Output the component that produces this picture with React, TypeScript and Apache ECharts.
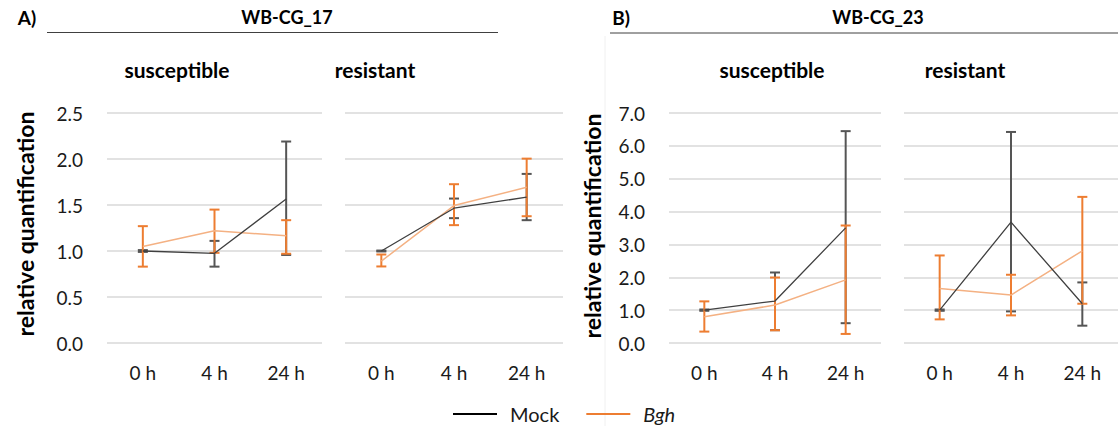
import React, { useEffect, useRef } from "react";
import * as echarts from "echarts";

const categories = ["0 h", "4 h", "24 h"];

// WB-CG_17 susceptible
const aSusMock = [1.0, 0.975, 1.565];
const aSusMockLo = [0.99, 0.83, 0.957];
const aSusMockHi = [1.01, 1.11, 2.19];
const aSusBgh = [1.05, 1.22, 1.165];
const aSusBghLo = [0.83, 0.98, 0.97];
const aSusBghHi = [1.27, 1.45, 1.335];

// WB-CG_17 resistant
const aResMock = [1.0, 1.465, 1.585];
const aResMockLo = [0.995, 1.357, 1.335];
const aResMockHi = [1.005, 1.57, 1.838];
const aResBgh = [0.89, 1.494, 1.693];
const aResBghLo = [0.832, 1.281, 1.378];
const aResBghHi = [0.962, 1.726, 2.004];

// WB-CG_23 susceptible
const bSusMock = [1.0, 1.277, 3.505];
const bSusMockLo = [0.98, 0.39, 0.603];
const bSusMockHi = [1.02, 2.146, 6.448];
const bSusBgh = [0.797, 1.155, 1.921];
const bSusBghLo = [0.347, 0.388, 0.276];
const bSusBghHi = [1.267, 1.993, 3.576];

// WB-CG_23 resistant
const bResMock = [1.0, 3.677, 1.195];
const bResMockLo = [0.98, 0.962, 0.527];
const bResMockHi = [1.02, 6.423, 1.844];
const bResBgh = [1.661, 1.459, 2.806];
const bResBghLo = [0.719, 0.841, 1.195];
const bResBghHi = [2.664, 2.077, 4.447];

const yTicksA = { min: 0, max: 2.5, interval: 0.5 };
const yTicksB = { min: 0, max: 7, interval: 1 };

const FONT = "Lato, 'Open Sans', sans-serif";
const MOCK_LINE = "#404040";
const MOCK_ERR = "#555555";
const BGH_LINE = "#f4b183";
const BGH_ERR = "#ed7d31";

function errSeries(idx: number, lo: number[], hi: number[], color: string) {
  return {
    type: "custom",
    xAxisIndex: idx,
    yAxisIndex: idx,
    silent: true,
    z: 3,
    data: lo.map((l, i) => [i, l, hi[i]]),
    renderItem: (params: any, api: any) => {
      const x = api.value(0);
      const pLo = api.coord([x, api.value(1)]);
      const pHi = api.coord([x, api.value(2)]);
      const hw = 5;
      const style = { stroke: color, lineWidth: 2, fill: "none" };
      return {
        type: "group",
        children: [
          { type: "line", shape: { x1: pLo[0], y1: pLo[1], x2: pHi[0], y2: pHi[1] }, style },
          { type: "line", shape: { x1: pLo[0] - hw, y1: pLo[1], x2: pLo[0] + hw, y2: pLo[1] }, style },
          { type: "line", shape: { x1: pHi[0] - hw, y1: pHi[1], x2: pHi[0] + hw, y2: pHi[1] }, style },
        ],
      };
    },
  };
}

function lineSeries(idx: number, name: string, data: number[], lineColor: string, width: number) {
  return {
    type: "line",
    name,
    xAxisIndex: idx,
    yAxisIndex: idx,
    data,
    symbol: "none",
    z: 4,
    itemStyle: { color: lineColor },
    lineStyle: { color: lineColor, width },
  };
}

export default function App() {
  const ref = useRef<HTMLDivElement>(null);
  useEffect(() => {
    if (!ref.current) return;
    const chart = echarts.init(ref.current, null, { renderer: "svg" });
    const grids = [
      { left: 107, top: 113, width: 215, height: 230 },
      { left: 345, top: 113, width: 218, height: 230 },
      { left: 669, top: 113, width: 212, height: 230 },
      { left: 904, top: 113, width: 221, height: 230 },
    ];
    const xAxes = grids.map((_, i) => ({
      type: "category",
      gridIndex: i,
      data: categories,
      boundaryGap: true,
      axisLine: { show: false },
      axisTick: { show: false },
      axisLabel: { fontFamily: FONT, fontSize: 19, color: "#1a1a1a", margin: 20 },
    }));
    const yAxes = grids.map((_, i) => {
      const t = i < 2 ? yTicksA : yTicksB;
      return {
        type: "value",
        gridIndex: i,
        min: t.min,
        max: t.max,
        interval: t.interval,
        axisLine: { show: false },
        axisTick: { show: false },
        axisLabel: {
          show: i === 0 || i === 2,
          fontFamily: FONT,
          fontSize: 19,
          color: "#1a1a1a",
          margin: 24,
          formatter: (v: number) => v.toFixed(1),
        },
        splitLine: { lineStyle: { color: "#d9d9d9", width: 1.5 } },
      };
    });
    const groups = [
      [aSusMock, aSusMockLo, aSusMockHi, aSusBgh, aSusBghLo, aSusBghHi],
      [aResMock, aResMockLo, aResMockHi, aResBgh, aResBghLo, aResBghHi],
      [bSusMock, bSusMockLo, bSusMockHi, bSusBgh, bSusBghLo, bSusBghHi],
      [bResMock, bResMockLo, bResMockHi, bResBgh, bResBghLo, bResBghHi],
    ];
    // legend-only series (first with each name, so the legend takes their colours)
    const series: any[] = [
      { ...lineSeries(0, "Mock", [], "#000000", 1.3) },
      { ...lineSeries(0, "Bgh", [], BGH_ERR, 1.5) },
    ];
    groups.forEach((g, i) => {
      series.push(errSeries(i, g[1], g[2], MOCK_ERR));
      series.push(errSeries(i, g[4], g[5], BGH_ERR));
      series.push(lineSeries(i, "Bgh", g[3], BGH_LINE, 1.5));
      series.push(lineSeries(i, "Mock", g[0], MOCK_LINE, 1.3));
    });

    const txt = (text: string, x: number, y: number, size: number, extra: any = {}) => ({
      type: "text",
      x,
      y,
      silent: true,
      ...extra,
      style: {
        text,
        fontFamily: FONT,
        fontSize: size,
        fontWeight: "bold",
        fill: "#000",
        textAlign: "center",
        textVerticalAlign: "middle",
        ...(extra.style || {}),
      },
    });

    chart.setOption({
      animation: false,
      grid: grids,
      xAxis: xAxes,
      yAxis: yAxes,
      series,
      legend: {
        data: ["Mock", "Bgh"],
        left: 448,
        top: 398,
        icon: "rect",
        itemWidth: 44,
        itemHeight: 2,
        itemGap: 27,
        formatter: (name: string) => (name === "Bgh" ? "{i|Bgh}" : name),
        textStyle: {
          fontFamily: FONT,
          fontSize: 20,
          lineHeight: 22,
          color: "#1a1a1a",
          padding: [0, 0, 0, 8],
          rich: { i: { fontStyle: "italic", fontFamily: FONT, fontSize: 20, lineHeight: 22, color: "#1a1a1a" } },
        },
      },
      graphic: [
        txt("A)", 27, 17, 19),
        txt("WB-CG_17", 287, 17, 18),
        { type: "line", silent: true, shape: { x1: 47, y1: 32.5, x2: 498, y2: 32.5 }, style: { stroke: "#404040", lineWidth: 1 } },
        txt("susceptible", 177, 69, 21),
        txt("resistant", 375, 69, 21),
        txt("B)", 621, 17, 19),
        txt("WB-CG_23", 878, 17, 18),
        { type: "line", silent: true, shape: { x1: 610, y1: 33, x2: 1118, y2: 33 }, style: { stroke: "#404040", lineWidth: 1 } },
        txt("susceptible", 772, 69, 21),
        txt("resistant", 965, 69, 21),
        { type: "line", silent: true, shape: { x1: 605, y1: 36, x2: 605, y2: 426 }, style: { stroke: "#f0f0f0", lineWidth: 1 } },
        txt("relative quantification", 25, 224, 23, { rotation: Math.PI / 2 }),
        txt("relative quantification", 592, 226, 23, { rotation: Math.PI / 2 }),
      ],
    });
    return () => chart.dispose();
  }, []);
  return (
    <div
      ref={ref}
      style={{ position: "fixed", left: 0, top: 0, width: 1118, height: 426, background: "#fff" }}
    />
  );
}
